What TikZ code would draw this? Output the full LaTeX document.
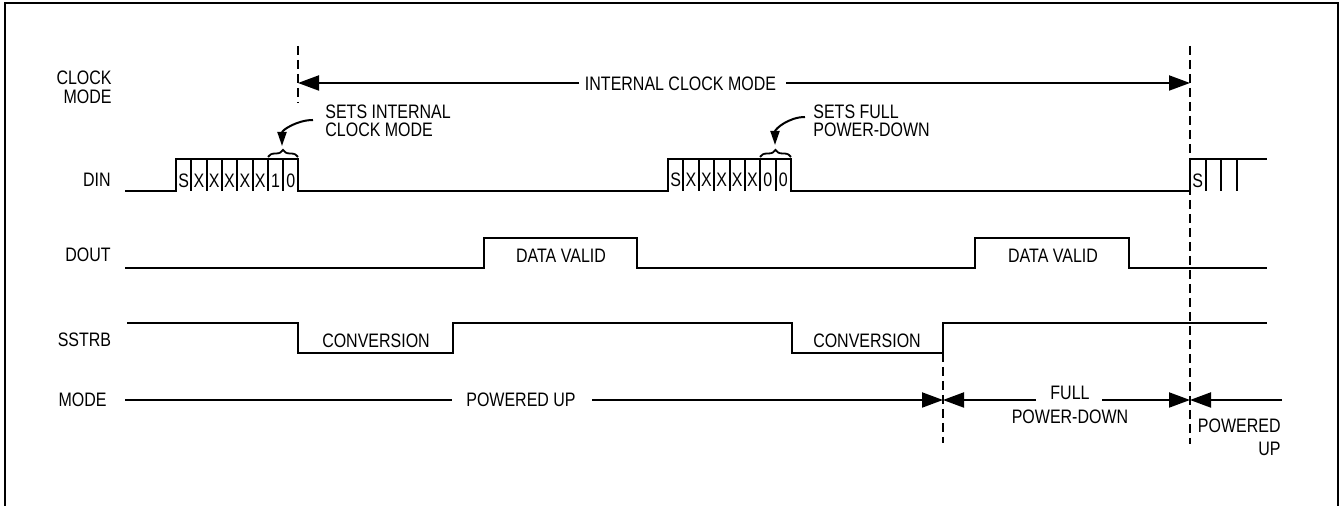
\documentclass[tikz,border=0pt]{standalone}
\usepackage{fontspec}
\setmainfont[FakeStretch=0.82]{Liberation Sans}
\usetikzlibrary{arrows.meta,decorations.pathreplacing}
\begin{document}
\begin{tikzpicture}[x=0.5pt,y=-0.5pt,
  sig/.style={line width=1pt, line join=miter},
  frame/.style={line width=1.2pt},
  dashv/.style={line width=1pt, dash pattern=on 4.5pt off 2.5pt},
  big/.style={line width=1pt, -{Triangle[length=10.5pt,width=7.5pt]}},
  small/.style={line width=1pt, -{Triangle[length=7pt,width=4.5pt]}},
  brc/.style={line width=0.9pt, decorate, decoration={brace, amplitude=3.5pt}},
  txt/.style={inner sep=0pt, font=\fontsize{9.75}{11.75}\selectfont},
  tight/.style={inner sep=0pt, font=\fontsize{9.75}{9.25}\selectfont},
  lab/.style={inner sep=0pt, font=\fontsize{9.75}{9.75}\selectfont, anchor=east, align=right}]
\useasboundingbox (0,0) rectangle (1340,506);
% frame (open at bottom)
\draw[frame] (5,510) -- (5,3) -- (1338,3) -- (1338,510);

% signal labels
\node[lab] (lclk) at (112,87.3) {CLOCK\\MODE};
\node[lab] (ldin) at (111,179.5) {DIN};
\node[lab] (ldout) at (111,255) {DOUT};
\node[lab] (lsstrb) at (111.5,340) {SSTRB};
\node[lab] (lmode) at (107,400) {MODE};

% dashed markers
\coordinate (d1t) at (298,46);  \coordinate (d1b) at (298,103);
\coordinate (d2t) at (1190,46); \coordinate (d2b) at (1190,444);
\coordinate (d3t) at (943,353); \coordinate (d3b) at (943,443);
\draw[dashv] (d1t) -- (d1b);
\draw[dashv] (d2t) -- (d2b);
\draw[dashv] (d3t) -- (d3b);

% clock mode arrow
\node[txt] (icm) at (680.5,84) {INTERNAL CLOCK MODE};
\coordinate (icmL) at (579,83); \coordinate (icmR) at (786,83);
\draw[big] (icmL) -- (d1t |- icmL);
\draw[big] (icmR) -- (d2t |- icmR);

% DIN
\draw[sig] (125,191) -- (176,191) -- (176,159) -- (298,159) -- (298,191)
  -- (668,191) -- (668,159) -- (791,159) -- (791,191) -- (1190,191)
  -- (1190,159) -- (1267,159);
\foreach \i in {1,...,7} {
  \draw[sig] ({176+15.3*\i},159) -- ({176+15.3*\i},191);
  \draw[sig] ({668+15.375*\i},159) -- ({668+15.375*\i},191);
}
\foreach \t [count=\i from 0] in {S,X,X,X,X,X,1,0} {
  \node[txt] (ba\i) at ({176+15.3*(\i+0.5)},181) {\t};
}
\foreach \t [count=\i from 0] in {S,X,X,X,X,X,0,0} {
  \node[txt] (bb\i) at ({668+15.375*(\i+0.5)},180) {\t};
}
\foreach \x in {1205.5,1221,1236.5} \draw[sig] (\x,159) -- (\x,191);
\node[txt] (bc0) at (1197.7,180.5) {S};

% braces and annotations
\draw[brc] (268,157) -- (298,157);
\draw[brc] (760,157) -- (791,157);
\node[tight, anchor=west, align=left] (ann1) at (325,121) {SETS INTERNAL\\CLOCK MODE};
\node[tight, anchor=west, align=left] (ann2) at (813,121) {SETS FULL\\POWER-DOWN};
\coordinate (a1s) at (313,120); \coordinate (a1e) at (282,146);
\coordinate (a2s) at (805,117); \coordinate (a2e) at (775,145);
\draw[small] (a1s) to[out=180,in=90] (a1e);
\draw[small] (a2s) to[out=180,in=90] (a2e);

% DOUT
\draw[sig] (125,268) -- (484,268) -- (484,238) -- (637,238) -- (637,268)
  -- (975,268) -- (975,238) -- (1129,238) -- (1129,268) -- (1267,268);
\node[txt] (dv1) at (561,255.5) {DATA VALID};
\node[txt] (dv2) at (1053,255.5) {DATA VALID};

% SSTRB
\draw[sig] (127,323) -- (298,323) -- (298,353) -- (453,353) -- (453,323)
  -- (792,323) -- (792,353) -- (943,353) -- (943,323) -- (1267,323);
\node[txt] (cv1) at (376,340.5) {CONVERSION};
\node[txt] (cv2) at (867,340.5) {CONVERSION};

% MODE
\node[txt] (pu) at (521,400) {POWERED UP};
\node[txt, align=center, font=\fontsize{9.75}{11.75}\selectfont] (fpd) at (1070,405) {FULL\\POWER-DOWN};
\node[txt, align=right, anchor=east] (pu2) at (1281,437.5) {POWERED\\UP};
\coordinate (m0) at (125,400);
\coordinate (m1) at (452,400);
\coordinate (m2) at (592,400);
\coordinate (m3) at (1036,400);
\coordinate (m4) at (1102,400);
\coordinate (m5) at (1282,400);
\draw[sig] (m0) -- (m1);
\draw[big] (m2) -- (d3t |- m2);
\draw[big] (m3) -- (d3t |- m3);
\draw[big] (m4) -- (d2t |- m4);
\draw[big] (m5) -- (d2t |- m5);
\end{tikzpicture}
\end{document}
